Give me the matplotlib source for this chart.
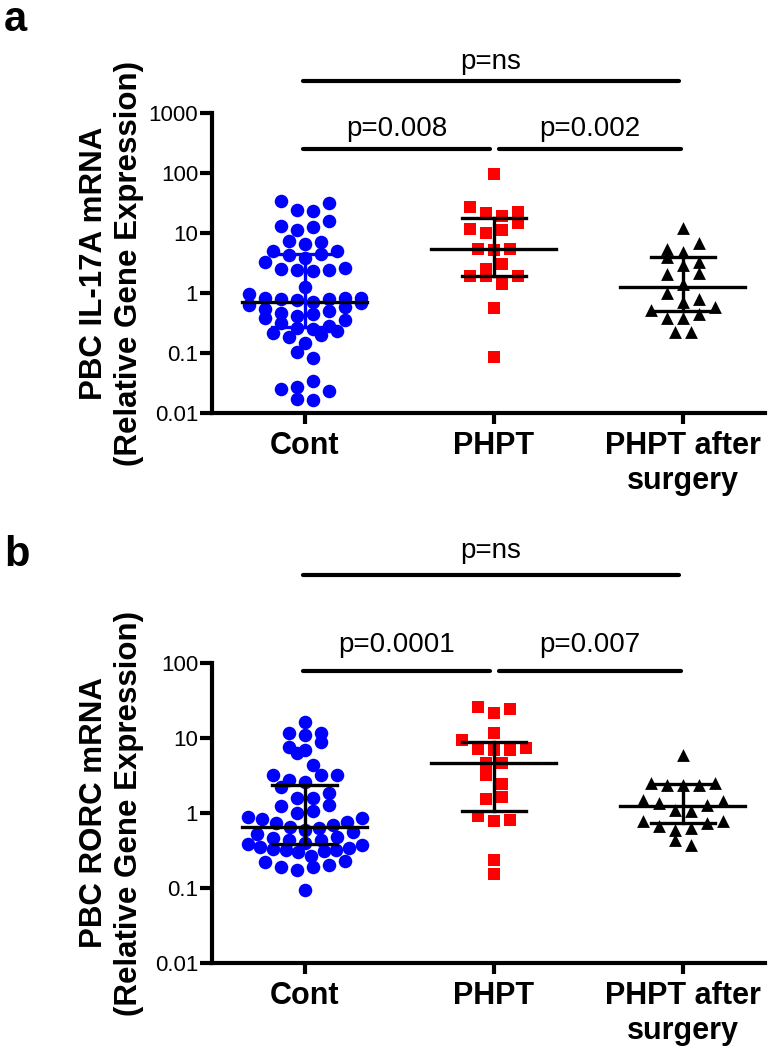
import numpy as np
import matplotlib
matplotlib.use("Agg")
import matplotlib.pyplot as plt
from matplotlib.ticker import FixedLocator, FixedFormatter, NullLocator
from matplotlib.transforms import blended_transform_factory

plt.rcParams['font.family'] = ['Liberation Sans', 'DejaVu Sans']

groups = ["Cont", "PHPT", "PHPT after\nsurgery"]
colors = ["#0000ff", "#ff0000", "#000000"]
markers = ["o", "s", "^"]

# panel a: IL-17A
cont_il17 = [34.5, 32, 24.2, 23.3, 15.8, 13.2, 12.6, 11.2, 7.4, 7.1, 6.6, 5.1, 5.1,
             4.5, 4.35, 3.9, 3.3, 2.6, 2.4, 2.3, 2.4, 2.5, 1.28, 0.96,
             0.84, 0.83, 0.82, 0.80, 0.78, 0.75, 0.71, 0.67, 0.63, 0.59, 0.55, 0.51,
             0.47, 0.44, 0.41, 0.39,
             0.355, 0.312, 0.286, 0.264, 0.248, 0.233, 0.218, 0.2, 0.187, 0.145,
             0.105, 0.082, 0.0346, 0.0275, 0.0251, 0.0236, 0.0165, 0.0169]
phpt_il17 = [95, 26.8, 19.2, 21.8, 22.1, 14.9, 11.7, 11.2, 10.1, 5.4, 5.3, 5.5,
             3.1, 2.5, 1.95, 1.95, 1.95, 1.41, 0.555, 0.085]
post_il17 = [12, 6.7, 5.5, 4.9, 4.0, 3.3, 2.9, 2.18, 2.05, 1.41, 0.99, 0.78, 0.72,
             0.53, 0.58, 0.44, 0.39, 0.39, 0.227, 0.227]
il17_median = [0.7, 5.5, 1.25]
il17_q1 = [0.268, 1.92, 0.5]
il17_q3 = [4.47, 18, 4.0]

# panel b: RORC
cont_rorc = [16.5, 11.8, 11.8, 11, 8.9, 7.7, 6.9, 6.25, 4.4, 3.2, 3.2, 3.2, 2.75, 2.6,
             2.24, 1.83, 1.57, 1.57, 1.24, 1.28, 0.99, 1.06,
             0.89, 0.86, 0.84, 0.75, 0.73, 0.70, 0.66, 0.64, 0.60, 0.55, 0.53,
             0.48, 0.47, 0.44, 0.43, 0.40, 0.39, 0.37, 0.356, 0.34, 0.33, 0.32, 0.32,
             0.31, 0.30,
             0.229, 0.203, 0.192, 0.174, 0.192, 0.22, 0.267, 0.094]
phpt_rorc = [24.1, 21.8, 26.2, 11.8, 9.4, 7.1, 6.9, 6.9, 7.3, 4.6, 4.7, 3.2, 2.4,
             1.52, 1.62, 0.81, 0.78, 0.91, 0.236, 0.154]
post_rorc = [5.9, 2.49, 2.36, 2.36, 2.36, 2.49, 1.46, 1.28, 1.37, 1.49, 1.06, 1.1,
             0.79, 0.79, 0.67, 0.59, 0.64, 0.73, 0.37, 0.43]
rorc_median = [0.66, 4.6, 1.24]
rorc_q1 = [0.386, 1.06, 0.74]
rorc_q3 = [2.36, 8.9, 2.46]

il17_ticks = [0.01, 0.1, 1, 10, 100, 1000]
rorc_ticks = [0.01, 0.1, 1, 10, 100]


def swarm_x(ax, x0, vals, row_h=13, step=16, max_half=57):
    # Prism-like scatter: group points into rows, spread each row around the centre
    pts = ax.transData.transform(np.column_stack([np.full(len(vals), x0), vals]))
    xc = pts[0, 0]
    ys = pts[:, 1]
    order = np.argsort(ys)
    xs = np.zeros(len(vals))
    i, flip = 0, 1
    while i < len(order):
        j = i + 1
        while j < len(order) and ys[order[j]] - ys[order[i]] < row_h:
            j += 1
        row = order[i:j]
        m = len(row)
        sp = min(step, 2 * max_half / (m - 1)) if m > 1 else step
        offs = []
        if m % 2:
            offs.append(0)
            k = 1
            while len(offs) < m:
                offs += [k * sp * flip, -k * sp * flip]
                k += 1
        else:
            k = 0.5
            while len(offs) < m:
                offs += [k * sp * flip, -k * sp * flip]
                k += 1
        for p, o in zip(row, offs[:m]):
            xs[p] = xc + o
        flip = -flip
        i = j
    data = ax.transData.inverted().transform(np.column_stack([xs, ys]))
    return data[:, 0]


fig = plt.figure(figsize=(7.78, 10.5), dpi=100)


def panel(rect, series, med, q1, q3, ticks, ylim, ylabel, brackets, letter, letter_y):
    ax = fig.add_axes(rect)
    ax.set_yscale("log")
    ax.set_ylim(*ylim)
    ax.set_xlim(-0.49, 2.435)
    for sp in ["top", "right"]:
        ax.spines[sp].set_visible(False)
    for sp in ["left", "bottom"]:
        ax.spines[sp].set_linewidth(3)
    ax.yaxis.set_major_locator(FixedLocator(ticks))
    ax.yaxis.set_major_formatter(FixedFormatter(["%g" % t for t in ticks]))
    ax.yaxis.set_minor_locator(NullLocator())
    ax.tick_params(axis="y", length=9, width=3, pad=1, labelsize=16)
    ax.set_xticks(range(3))
    ax.set_xticklabels(groups, fontsize=22, fontweight="bold")
    ax.tick_params(axis="x", length=8, width=3, pad=5)

    sizes = [95, 80, 85]
    for k, vals in enumerate(series):
        xs = swarm_x(ax, k, vals)
        ax.scatter(xs, vals, s=sizes[k], marker=markers[k], color=colors[k],
                   linewidths=0, zorder=2, clip_on=False)
        bar_col = colors[k] if (k == 0 and letter == "a") else "black"
        ax.plot([k - 0.33, k + 0.33], [med[k], med[k]], color="black", lw=2.4, zorder=3)
        ax.plot([k, k], [q1[k], q3[k]], color=bar_col, lw=2.4, zorder=3)
        ax.plot([k - 0.17, k + 0.17], [q1[k], q1[k]], color=bar_col, lw=2.4, zorder=3)
        ax.plot([k - 0.17, k + 0.17], [q3[k], q3[k]], color=bar_col, lw=2.4, zorder=3)

    tr = blended_transform_factory(ax.transData, ax.transAxes)
    for (x1, x2, yl, text, yt) in brackets:
        ax.plot([x1, x2], [yl, yl], color="black", lw=3, solid_capstyle="round",
                transform=tr, clip_on=False)
        ax.text((x1 + x2) / 2, yt, text, transform=tr, ha="center", va="center",
                fontsize=20)

    cy = rect[1] + rect[3] / 2
    fig.text(111.5 / 778, cy, ylabel, rotation=90, ha="center", va="center",
             fontsize=22.5, fontweight="bold", multialignment="center", linespacing=1.2)
    fig.text(0.005, letter_y, letter, fontsize=30, fontweight="bold", va="top", ha="left")
    return ax


left = 212 / 778
width = (765 - 212) / 778
panel([left, (1050 - 413) / 1050, width, 300 / 1050],
      [cont_il17, phpt_il17, post_il17], il17_median, il17_q1, il17_q3,
      il17_ticks, (0.01, 1000), "PBC IL-17A mRNA\n(Relative Gene Expression)",
      [(-0.01, 1.98, 1.107, "p=ns", 1.17),
       (-0.01, 0.98, 0.88, "p=0.008", 0.945),
       (1.03, 1.99, 0.88, "p=0.002", 0.945)],
      "a", 1.0)

panel([left, (1050 - 963) / 1050, width, 300 / 1050],
      [cont_rorc, phpt_rorc, post_rorc], rorc_median, rorc_q1, rorc_q3,
      rorc_ticks, (0.01, 100), "PBC RORC mRNA\n(Relative Gene Expression)",
      [(-0.01, 1.98, 1.293, "p=ns", 1.375),
       (-0.01, 0.98, 0.973, "p=0.0001", 1.06),
       (1.03, 1.99, 0.973, "p=0.007", 1.06)],
      "b", 1 - 535 / 1050)

fig.savefig("out.png", dpi=100)
